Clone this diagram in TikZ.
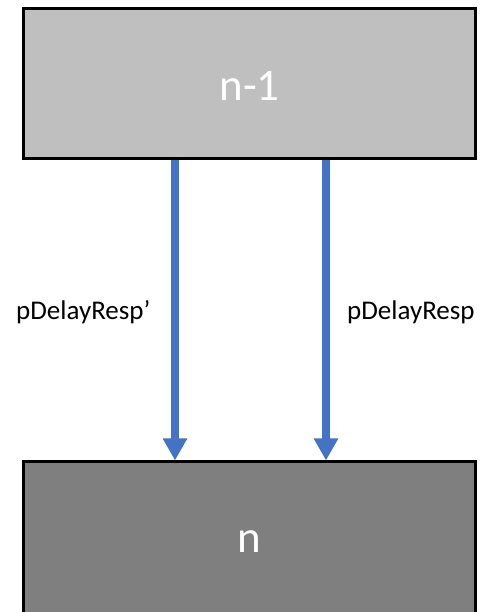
\documentclass[tikz,border=0pt]{standalone}
\usepackage{fontspec}
\setmainfont{Carlito}
\usetikzlibrary{arrows.meta}
\definecolor{topgray}{HTML}{BFBFBF}
\definecolor{botgray}{HTML}{7F7F7F}
\definecolor{arrblue}{HTML}{4472C4}
\begin{document}
\begin{tikzpicture}[x=1pt,y=1pt,
  box/.style={draw=black,line width=3pt,minimum width=452pt,inner sep=0pt,text=white,font=\fontsize{45}{54}\selectfont},
  flow/.style={draw=arrblue,line width=8pt,-{Triangle[width=23pt,length=22pt]}},
  lbl/.style={anchor=base west,inner sep=0pt,font=\fontsize{27}{32}\selectfont}]
\useasboundingbox (0,0) rectangle (483,612);
\node[box,fill=topgray,minimum height=150.5pt,text height=33.4pt,text depth=0pt] (top) at (249.5,528.25) {n-1};
\node[box,fill=botgray,minimum height=153pt,text height=28pt,text depth=0pt] (bot) at (249.5,73.5) {n};
\coordinate (a1) at (175,300);
\coordinate (a2) at (326,300);
\draw[flow] (top.south -| a1) -- (bot.north -| a1);
\draw[flow] (top.south -| a2) -- (bot.north -| a2);
\node[lbl] (l1) at (16,292) {pDelayResp’};
\node[lbl] (l2) at (347,292) {pDelayResp};
\end{tikzpicture}
\end{document}
